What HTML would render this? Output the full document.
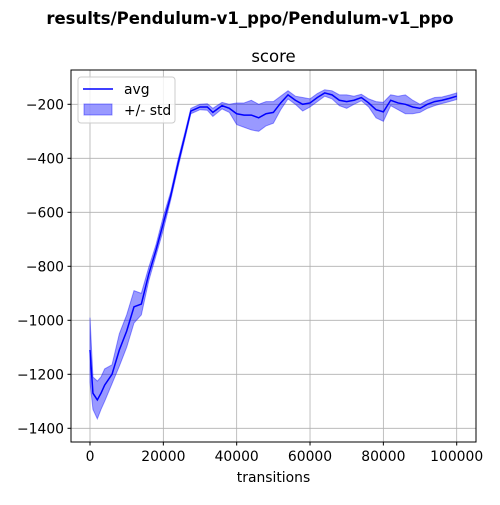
<!DOCTYPE html>
<html><head><meta charset="utf-8"><style>body{margin:0;background:#fff}svg text{font-family:"DejaVu Sans","Liberation Sans",sans-serif}</style></head>
<body>
<svg id="c" width="500" height="500">
<text x="250" y="24" text-anchor="middle" font-size="16.5" font-weight="bold">results/Pendulum-v1_ppo/Pendulum-v1_ppo</text>
<text x="273.5" y="62" text-anchor="middle" font-size="16.5">score</text>
<text x="273.5" y="482" text-anchor="middle" font-size="13.9">transitions</text>
<g id="grid"></g><g id="marks"></g>
<rect x="71" y="70" width="405" height="372" fill="none" stroke="#000" stroke-width="1"/>
<g id="ticks"></g>
<g>
<rect x="78" y="77" width="97" height="46" rx="3" fill="#fff" fill-opacity="0.8" stroke="#ccc"/>
<line x1="83" y1="89" x2="113" y2="89" stroke="#0000ff" stroke-width="1.5"/>
<text x="124" y="94" font-size="13.9">avg</text>
<rect x="84" y="104" width="28" height="11" fill="#0000ff" fill-opacity="0.4" stroke="#0000ff" stroke-opacity="0.4"/>
<text x="124" y="115" font-size="13.9">+/- std</text>
</g>
</svg>
<script>
const xs=[0,800,2000,3000,4000,6000,8000,10000,12000,14000,16000,18000,20000,22000,24000,26000,27500,30000,32000,33500,36000,38000,40000,42000,44000,46000,48000,50000,52000,54000,56000,58000,60000,62000,64000,66000,68000,70000,72000,74000,76000,78000,80000,82000,84000,86000,88000,90000,92000,94000,96000,98000,100000];
const avg=[-1110,-1270,-1295,-1270,-1240,-1200,-1110,-1040,-950,-940,-830,-740,-640,-540,-420,-310,-225,-210,-210,-230,-205,-215,-235,-240,-240,-250,-235,-230,-195,-165,-185,-200,-195,-175,-158,-165,-185,-190,-185,-175,-195,-220,-228,-185,-195,-200,-210,-215,-200,-190,-185,-178,-170];
const sd=[120,60,70,60,60,35,60,60,60,40,25,20,25,15,15,12,10,10,12,15,12,15,40,45,55,50,45,40,25,15,15,25,15,15,12,15,20,25,15,12,15,30,35,20,25,35,25,15,15,15,12,12,12];
const xTicks=[0,20000,40000,60000,80000,100000];
const yTicks=[-1400,-1200,-1000,-800,-600,-400,-200];
const X=v=>90+v*(366.7/100000), Y=v=>104.3-(v+200)*0.27;
const NS="http://www.w3.org/2000/svg";
function mk(t,a,p){const e=document.createElementNS(NS,t);for(const k in a)e.setAttribute(k,a[k]);p.appendChild(e);return e;}
const g=document.getElementById('grid'),tk=document.getElementById('ticks'),m=document.getElementById('marks');
xTicks.forEach(v=>{const x=X(v);
const l=mk('line',{x1:x,x2:x,y1:70,y2:442,stroke:'#b0b0b0','stroke-width':0.8},g);


mk('line',{x1:x,x2:x,y1:442,y2:445.5,stroke:'#000'},tk);
const t=mk('text',{x:x,y:461,'text-anchor':'middle','font-size':13.9},tk);t.textContent=v;

});
yTicks.forEach(v=>{const y=Y(v);
const l=mk('line',{x1:71,x2:476,y1:y,y2:y,stroke:'#b0b0b0','stroke-width':0.8},g);


mk('line',{x1:67.5,x2:71,y1:y,y2:y,stroke:'#000'},tk);
const t=mk('text',{x:64,y:y+5,'text-anchor':'end','font-size':13.9},tk);t.textContent=String(v).replace('-','\u2212');

});
let up=xs.map((v,i)=>X(v)+','+Y(avg[i]+sd[i])), lo=xs.map((v,i)=>X(v)+','+Y(avg[i]-sd[i])).reverse();
const band=mk('polygon',{points:up.concat(lo).join(' '),fill:'#0000ff','fill-opacity':0.4,stroke:'#0000ff','stroke-opacity':0.4},m);


const line=mk('polyline',{points:xs.map((v,i)=>X(v)+','+Y(avg[i])).join(' '),fill:'none',stroke:'#0000ff','stroke-width':1.5},m);


</script>
</body></html>
